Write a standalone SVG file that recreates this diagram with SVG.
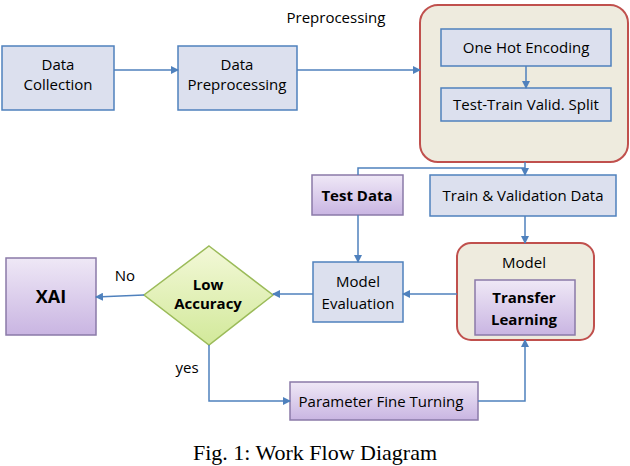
<svg xmlns="http://www.w3.org/2000/svg" width="630" height="466" viewBox="0 0 630 466">
<defs>
<linearGradient id="pg" x1="0" y1="0" x2="0" y2="1"><stop offset="0" stop-color="#EFE8F6"/><stop offset="1" stop-color="#C9B5E2"/></linearGradient>
<linearGradient id="gg" x1="0" y1="0" x2="0" y2="1"><stop offset="0" stop-color="#F3F8D8"/><stop offset="1" stop-color="#D2E99A"/></linearGradient>
<marker id="a" markerWidth="8" markerHeight="8" refX="7" refY="4" orient="auto" markerUnits="userSpaceOnUse"><path d="M0,0 L8,4 L0,8 Z" fill="#4F81BD"/></marker>
</defs>
<style>
.b{fill:#DCE0EE;stroke:#4F81BD;stroke-width:1.5}
.p{fill:url(#pg);stroke:#8A7AA8;stroke-width:1.5}
.c{fill:#EEEBDE;stroke:#C0504D;stroke-width:2}
text{font-family:"Open Sans","Liberation Sans",sans-serif;font-size:15px;fill:#000;text-anchor:middle}
.bd{font-weight:bold}
.ln{fill:none;stroke:#4F81BD;stroke-width:1.5}
.cap{font-family:"Liberation Serif",serif;font-size:22px}
</style>
<rect width="630" height="466" fill="#fff"/>
<text x="336" y="23">Preprocessing</text>
<g id="n1"><rect class="b" x="2" y="46" width="112" height="64"/><text x="58" y="70">Data</text><text x="58" y="90">Collection</text></g>
<g id="n2"><rect class="b" x="178" y="46" width="119" height="64"/><text x="237" y="70">Data</text><text x="237" y="90">Preprocessing</text></g>
<g id="pre"><rect class="c" x="420" y="5" width="208" height="157" rx="18"/>
<g id="n3"><rect class="b" x="441" y="29" width="170" height="37"/><text x="526" y="53">One Hot Encoding</text></g>
<g id="n4"><rect class="b" x="441" y="88" width="170" height="33"/><text x="526" y="110">Test-Train Valid. Split</text></g></g>
<g id="n5"><rect class="p" x="312" y="175" width="91" height="40"/><text class="bd" x="357" y="201">Test Data</text></g>
<g id="n6"><rect class="b" x="430" y="175" width="186" height="41"/><text x="523" y="201">Train &amp; Validation Data</text></g>
<g id="model"><rect class="c" x="457" y="243" width="137" height="97" rx="14" stroke-width="3"/><text x="524" y="268">Model</text>
<g id="n7"><rect class="p" x="475" y="280" width="100" height="55"/><text class="bd" x="524" y="303">Transfer</text><text class="bd" x="524" y="325">Learning</text></g></g>
<g id="n8"><rect class="b" x="313" y="262" width="90" height="60" fill="#E0E1EC"/><text x="358" y="287">Model</text><text x="358" y="309">Evaluation</text></g>
<g id="n9"><polygon points="209,246 273,295 209,345 144,295" fill="url(#gg)" stroke="#9BBB59" stroke-width="1.5"/><text class="bd" x="208" y="290" font-size="14">Low</text><text class="bd" x="208" y="309" font-size="14">Accuracy</text></g>
<g id="n10"><rect class="p" x="6" y="258" width="90" height="77"/><text class="bd" x="51" y="303" style="font-size:18px">XAI</text></g>
<g id="n11"><rect class="p" x="290" y="382" width="188" height="38"/><text x="381" y="407">Parameter Fine Turning</text></g>
<g id="edges">
<path class="ln" d="M114,70 H178" marker-end="url(#a)"/>
<path class="ln" d="M297,70 H420" marker-end="url(#a)"/>
<path class="ln" d="M526,66 V88" marker-end="url(#a)"/>
<path class="ln" d="M525,162 V175" marker-end="url(#a)"/>
<path class="ln" d="M525,168 H358 V175"/>
<path class="ln" d="M358,215 V262" marker-end="url(#a)"/>
<path class="ln" d="M525,216 V243" marker-end="url(#a)"/>
<path class="ln" d="M457,294 H403" marker-end="url(#a)"/>
<path class="ln" d="M313,294 H273" marker-end="url(#a)"/>
<path class="ln" d="M144,295 L96,297" marker-end="url(#a)"/>
<path class="ln" d="M209,345 V401 H290" marker-end="url(#a)"/>
<path class="ln" d="M478,401 H525 V340" marker-end="url(#a)"/>
</g>
<text x="125" y="281">No</text>
<text x="187" y="373">yes</text>
<text class="cap" x="315" y="460">Fig. 1: Work Flow Diagram</text>
</svg>
